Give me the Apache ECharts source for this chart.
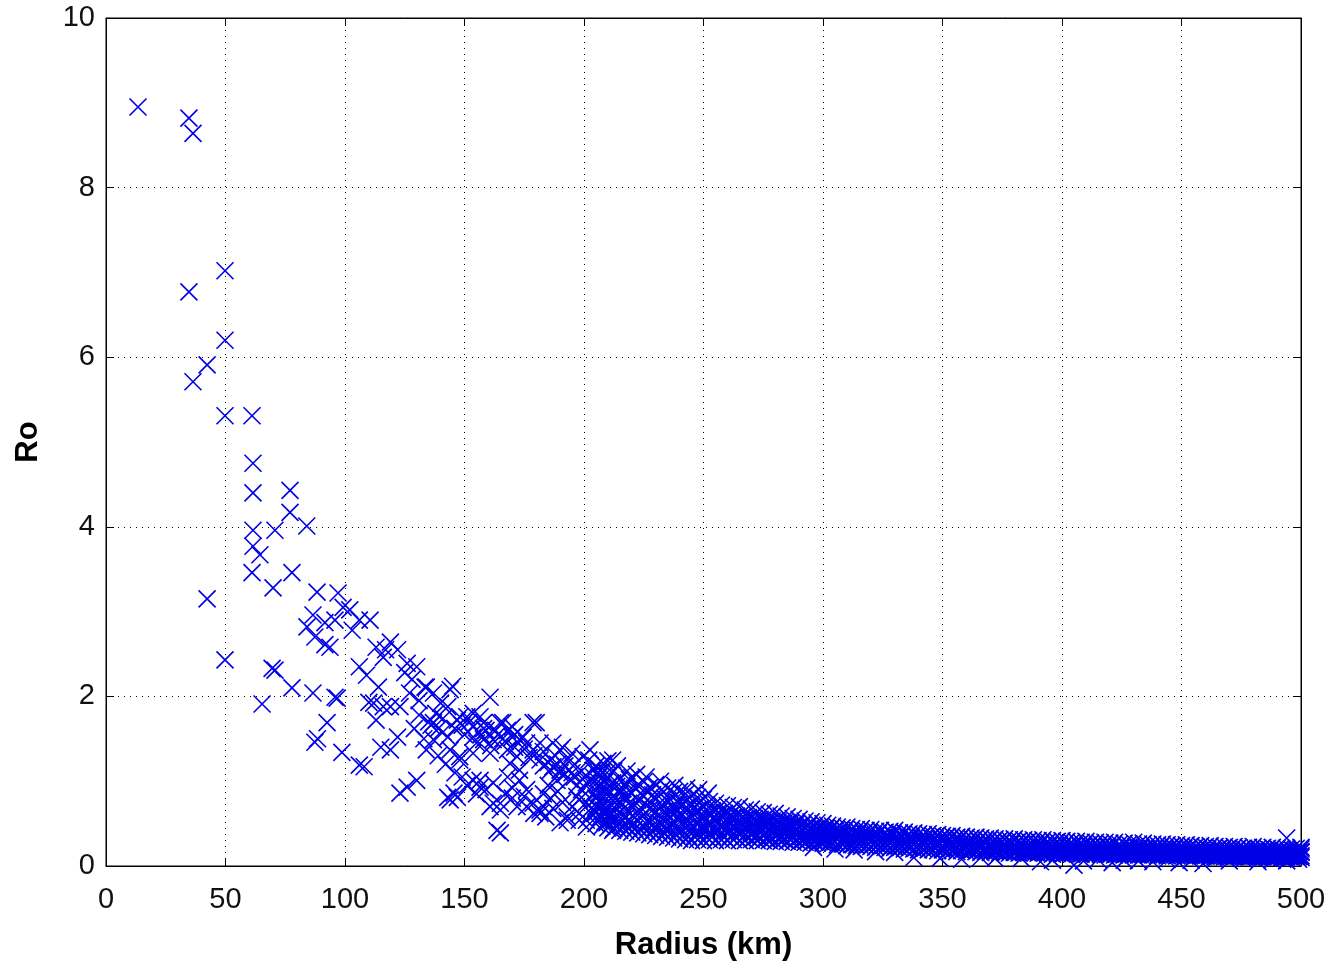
<!DOCTYPE html>
<html>
<head>
<meta charset="utf-8">
<script src="https://cdn.jsdelivr.net/npm/echarts@6/dist/echarts.min.js"></script>
<style>
  html, body { margin: 0; padding: 0; background: #ffffff; }
  #chart { width: 1339px; height: 970px; }
</style>
</head>
<body>
<div id="chart"></div>
<script>
// Axis ticks
const radiusTicks = [0, 50, 100, 150, 200, 250, 300, 350, 400, 450, 500];
const roTicks = [0, 2, 4, 6, 8, 10];

// Innermost radii: [radius km, Ro]
const innerPoints = [
  [13.4, 8.95], [34.7, 8.82], [36.4, 8.64], [34.7, 6.77], [49.8, 7.02], [49.8, 6.20],
  [42.3, 5.91], [36.4, 5.71], [49.8, 5.31], [61.1, 5.31], [61.5, 4.75], [61.5, 4.40],
  [42.3, 3.15], [49.8, 2.43], [77.0, 4.43], [77.0, 4.17], [84.0, 4.01], [61.5, 3.96],
  [70.7, 3.96], [61.5, 3.77], [64.4, 3.67], [61.1, 3.46], [77.8, 3.46], [69.9, 3.28],
  [65.3, 1.91], [69.5, 2.33], [70.7, 2.31], [77.8, 2.10]
];

// Radii 84-220 km
const transitionPoints = [
  [88.3, 3.23], [97.1, 3.22], [86.6, 2.96], [99.2, 3.05], [102, 3.02], [84.1, 2.82],
  [91.6, 2.87], [95.8, 2.90], [106, 2.90], [110.5, 2.90], [87.4, 2.70], [93.7, 2.58],
  [103, 2.78], [113, 2.58], [119, 2.64], [122, 2.55], [116, 2.46], [106, 2.35],
  [109, 2.25], [126, 2.39], [130, 2.35], [114, 2.11], [86.6, 2.04], [95.8, 1.99],
  [133.5, 2.11], [137, 2.04], [144, 2.08], [145, 2.12], [127, 2.04], [112, 1.92],
  [119, 1.88], [92.5, 1.69], [137, 1.69], [147, 1.72], [91.6, 2.61], [87.4, 1.46],
  [88.5, 1.50], [98.7, 1.34], [106, 1.19], [108, 1.17], [115, 1.40], [119, 1.37],
  [122, 1.52], [113, 1.72], [116, 1.88], [110, 1.93], [117, 2.55], [123, 1.88],
  [134, 2.11], [140, 1.92], [134, 1.37], [137, 1.49], [126, 0.93], [123, 0.86],
  [130, 1.01], [144, 0.78], [147, 0.81], [148, 1.25], [144, 1.37], [96.7, 1.98],
  [135, 1.70], [136, 1.66], [139, 1.62], [141, 1.58], [131, 1.78],
  [151, 1.76], [153.6, 1.64], [159, 1.60], [160.7, 1.99], [156.5, 1.76], [165, 1.69],
  [168, 1.60], [170, 1.52], [158, 1.49], [153.6, 1.33], [156.5, 1.01], [149, 1.05],
  [162, 0.74], [165, 0.66], [165, 0.39], [173, 1.01], [178.7, 1.37], [181.6, 1.25],
  [178.7, 1.69], [183, 0.70], [181.6, 0.62], [187, 1.17], [190, 1.13], [193, 1.25],
  [191, 1.40], [172, 1.29], [168, 1.37], [173, 1.49], [193, 0.54], [198, 0.62],
  [201, 0.54], [202.5, 1.37], [204, 1.13], [143, 1.88], [148, 1.76], [153.6, 1.80],
  [158, 1.69], [166, 1.69], [170, 1.64], [180, 1.69], [143, 1.52], [153.6, 1.52],
  [162, 1.49], [174.5, 1.52], [181.6, 1.45], [187, 1.45], [190, 1.37], [195, 1.33],
  [199.6, 1.29], [202, 1.25], [148, 1.29], [160.7, 1.33], [169, 1.21], [173, 1.13],
  [186, 1.13], [188.7, 1.01], [190, 1.10], [195, 1.10], [153.6, 1.01], [156.5, 0.93],
  [162, 0.98], [168, 1.05], [143, 0.81], [145.6, 0.86], [160.7, 0.70], [165, 0.74],
  [172, 0.70], [178.7, 0.74], [181.6, 0.66], [198, 0.78], [204, 0.86], [205, 0.70],
  [209.6, 0.90], [212, 0.98], [209.6, 1.10], [208, 1.21], [212, 1.25], [163.6, 0.42],
  [190, 0.51], [193, 0.58], [198, 0.54], [201, 0.46], [209.6, 0.51], [212, 0.42],
  [150, 1.55], [155, 1.45], [157, 1.55], [161, 1.42], [164, 1.55], [167, 1.47],
  [171, 1.40], [176, 1.45], [177, 1.28], [183, 1.35], [185, 1.22], [188, 1.30],
  [192, 1.18], [196, 1.20], [194, 1.02], [197, 0.95], [200, 1.05], [203, 1.00],
  [206, 0.95], [199, 0.90], [185, 0.95], [183, 0.85], [176, 0.90], [175, 0.82],
  [170, 0.92], [186, 0.80], [189, 0.88], [191, 0.75], [195, 0.70], [203, 0.62],
  [207, 0.58],
  [152, 1.70], [158, 1.62], [163, 1.60], [166, 1.50], [171, 1.55], [175, 1.38],
  [179, 1.30], [183, 1.18], [186, 1.25], [189, 1.20], [192, 1.08], [196, 1.05],
  [199, 1.12], [201, 0.98], [204, 1.05], [197, 0.82], [201, 0.75], [205, 0.80],
  [203, 0.68], [208, 0.66], [211, 0.60], [213, 0.75], [215, 0.85], [217, 0.95],
  [219, 1.02], [209, 1.00], [206, 1.10], [187, 0.68], [184, 0.58], [179, 0.62],
  [176, 0.70], [170, 0.80], [167, 0.85], [159, 0.90], [155, 0.85], [151, 0.95],
  [146, 1.10], [142, 1.20], [139, 1.30], [138, 1.80], [141, 1.74], [146, 1.62],
  [149, 1.66], [133, 1.50], [129, 1.62], [131, 1.95], [128, 2.20], [125, 2.28]
];

// Radii 205-300 km: [radius km, Ro values...]
const bandColumns = [
  [205, 1.18, 0.97, 0.80, 0.63, 0.50], [207.5, 1.10, 0.92, 0.74, 0.58, 0.47],
  [210, 1.05, 0.88, 0.71, 0.60, 0.45], [212.5, 1.12, 0.83, 0.69, 0.55, 0.44],
  [215, 1.02, 0.90, 0.76, 0.52, 0.42], [217.5, 0.98, 0.81, 0.66, 0.57, 0.41],
  [220, 1.04, 0.86, 0.70, 0.49, 0.40], [222.5, 0.95, 0.78, 0.64, 0.53, 0.39],
  [225, 0.99, 0.82, 0.61, 0.47, 0.38], [227.5, 0.93, 0.75, 0.67, 0.51, 0.37],
  [230, 0.96, 0.79, 0.63, 0.46, 0.36], [232.5, 0.90, 0.72, 0.58, 0.49, 0.35],
  [235, 0.92, 0.77, 0.60, 0.44, 0.34], [237.5, 0.87, 0.70, 0.62, 0.48, 0.33],
  [240, 0.88, 0.74, 0.57, 0.43, 0.32], [242.5, 0.85, 0.68, 0.55, 0.46, 0.31],
  [245, 0.83, 0.71, 0.59, 0.42, 0.30], [247.5, 0.81, 0.66, 0.52, 0.40, 0.31],
  [250, 0.79, 0.69, 0.56, 0.44, 0.30], [252.5, 0.76, 0.63, 0.50, 0.39, 0.31],
  [255, 0.74, 0.65, 0.54, 0.42, 0.30], [257.5, 0.72, 0.60, 0.49, 0.38, 0.31],
  [260, 0.71, 0.62, 0.52, 0.41, 0.30], [262.5, 0.69, 0.58, 0.47, 0.37, 0.31],
  [265, 0.70, 0.59, 0.50, 0.40, 0.30], [267.5, 0.66, 0.56, 0.46, 0.36, 0.30],
  [270, 0.67, 0.57, 0.48, 0.39, 0.31], [272.5, 0.64, 0.54, 0.45, 0.35, 0.30],
  [275, 0.63, 0.55, 0.47, 0.38, 0.30], [277.5, 0.61, 0.52, 0.43, 0.34, 0.30],
  [280, 0.62, 0.53, 0.45, 0.37, 0.29], [282.5, 0.59, 0.50, 0.42, 0.33, 0.29],
  [285, 0.58, 0.51, 0.44, 0.36, 0.29], [287.5, 0.56, 0.49, 0.41, 0.34, 0.28],
  [290, 0.55, 0.47, 0.40, 0.33, 0.28], [292.5, 0.53, 0.46, 0.39, 0.32, 0.28],
  [295, 0.52, 0.45, 0.38, 0.33, 0.27], [297.5, 0.51, 0.44, 0.37, 0.31, 0.27],
  [300, 0.50, 0.43, 0.36, 0.30, 0.27]
];

// Further radii 206-299 km between the columns above
const bandMidColumns = [
  [206.25, 1.05, 0.86, 0.68, 0.54], [208.75, 1.00, 0.82, 0.65, 0.52],
  [211.25, 0.97, 0.79, 0.62, 0.49], [213.75, 0.94, 0.77, 0.61, 0.48],
  [216.25, 0.91, 0.73, 0.59, 0.46], [218.75, 0.89, 0.74, 0.55, 0.45],
  [221.25, 0.92, 0.71, 0.57, 0.44], [223.75, 0.86, 0.69, 0.56, 0.43],
  [226.25, 0.88, 0.72, 0.53, 0.42], [228.75, 0.84, 0.66, 0.54, 0.41],
  [231.25, 0.82, 0.68, 0.51, 0.40], [233.75, 0.80, 0.65, 0.52, 0.39],
  [236.25, 0.78, 0.63, 0.50, 0.38], [238.75, 0.76, 0.64, 0.48, 0.37],
  [241.25, 0.74, 0.61, 0.49, 0.36], [243.75, 0.72, 0.59, 0.47, 0.35],
  [246.25, 0.70, 0.60, 0.46, 0.35], [248.75, 0.68, 0.57, 0.45, 0.34],
  [251.25, 0.67, 0.55, 0.44, 0.34], [253.75, 0.65, 0.56, 0.43, 0.35],
  [256.25, 0.63, 0.53, 0.44, 0.34], [258.75, 0.62, 0.51, 0.42, 0.34],
  [261.25, 0.60, 0.52, 0.43, 0.35], [263.75, 0.59, 0.50, 0.41, 0.34],
  [266.25, 0.58, 0.48, 0.40, 0.33], [268.75, 0.57, 0.49, 0.41, 0.34],
  [271.25, 0.56, 0.47, 0.39, 0.33], [273.75, 0.55, 0.46, 0.40, 0.33],
  [276.25, 0.54, 0.47, 0.38, 0.32], [278.75, 0.53, 0.45, 0.39, 0.32],
  [281.25, 0.52, 0.44, 0.37, 0.32], [283.75, 0.51, 0.45, 0.38, 0.31],
  [286.25, 0.50, 0.43, 0.36, 0.31], [288.75, 0.49, 0.42, 0.37, 0.31],
  [291.25, 0.48, 0.42, 0.35, 0.30], [293.75, 0.47, 0.41, 0.36, 0.30],
  [296.25, 0.46, 0.40, 0.34, 0.29], [298.75, 0.45, 0.39, 0.35, 0.29]
];

// Radii 302-500 km (even): [radius km, Ro values...]
const outerColumns = [
  [302, 0.48, 0.40, 0.33, 0.26], [304, 0.47, 0.38, 0.31, 0.27], [306, 0.46, 0.39, 0.32, 0.25],
  [308, 0.45, 0.37, 0.30, 0.26], [310, 0.46, 0.38, 0.31, 0.24], [312, 0.44, 0.36, 0.29, 0.25],
  [314, 0.43, 0.37, 0.30, 0.24], [316, 0.44, 0.35, 0.28, 0.23], [318, 0.42, 0.36, 0.29, 0.24],
  [320, 0.43, 0.34, 0.28, 0.23], [322, 0.41, 0.35, 0.27, 0.22], [324, 0.42, 0.33, 0.28, 0.23],
  [326, 0.40, 0.34, 0.26, 0.22], [328, 0.41, 0.32, 0.27, 0.21], [330, 0.42, 0.33, 0.26, 0.22],
  [332, 0.39, 0.31, 0.25, 0.21], [334, 0.40, 0.32, 0.26, 0.20], [336, 0.38, 0.31, 0.24, 0.21],
  [338, 0.39, 0.30, 0.25, 0.20], [340, 0.38, 0.31, 0.24, 0.19], [342, 0.37, 0.29, 0.25, 0.20],
  [344, 0.38, 0.30, 0.23, 0.19], [346, 0.36, 0.29, 0.24, 0.19], [348, 0.37, 0.28, 0.23, 0.18],
  [350, 0.36, 0.29, 0.22, 0.19], [352, 0.35, 0.28, 0.23, 0.18], [354, 0.36, 0.27, 0.22, 0.18],
  [356, 0.34, 0.28, 0.21, 0.17], [358, 0.35, 0.27, 0.22, 0.18], [360, 0.34, 0.26, 0.21, 0.17],
  [362, 0.33, 0.27, 0.22, 0.18], [364, 0.34, 0.26, 0.20, 0.17], [366, 0.33, 0.25, 0.21, 0.16],
  [368, 0.32, 0.26, 0.20, 0.17], [370, 0.33, 0.25, 0.21, 0.16], [372, 0.32, 0.26, 0.19, 0.17],
  [374, 0.31, 0.25, 0.20, 0.16], [376, 0.32, 0.24, 0.19, 0.16], [378, 0.31, 0.25, 0.20, 0.15],
  [380, 0.32, 0.24, 0.19, 0.16], [382, 0.30, 0.25, 0.20, 0.15], [384, 0.31, 0.24, 0.18, 0.16],
  [386, 0.30, 0.23, 0.19, 0.15], [388, 0.31, 0.24, 0.18, 0.16], [390, 0.30, 0.23, 0.19, 0.15],
  [392, 0.31, 0.22, 0.18, 0.16], [394, 0.29, 0.23, 0.19, 0.15], [396, 0.30, 0.22, 0.18, 0.14],
  [398, 0.29, 0.23, 0.17, 0.15], [400, 0.30, 0.22, 0.18, 0.14], [402, 0.29, 0.23, 0.17, 0.15],
  [404, 0.28, 0.22, 0.18, 0.14], [406, 0.29, 0.21, 0.17, 0.15], [408, 0.28, 0.22, 0.18, 0.14],
  [410, 0.29, 0.21, 0.17, 0.14], [412, 0.27, 0.22, 0.18, 0.15], [414, 0.28, 0.21, 0.17, 0.14],
  [416, 0.27, 0.20, 0.16, 0.14], [418, 0.28, 0.21, 0.17, 0.13], [420, 0.27, 0.22, 0.16, 0.14],
  [422, 0.28, 0.20, 0.17, 0.13], [424, 0.26, 0.21, 0.16, 0.14], [426, 0.27, 0.20, 0.17, 0.13],
  [428, 0.26, 0.21, 0.16, 0.14], [430, 0.28, 0.20, 0.15, 0.13], [432, 0.26, 0.21, 0.16, 0.13],
  [434, 0.27, 0.20, 0.17, 0.14], [436, 0.25, 0.19, 0.16, 0.13], [438, 0.26, 0.20, 0.15, 0.13],
  [440, 0.25, 0.19, 0.16, 0.12], [442, 0.26, 0.20, 0.15, 0.13], [444, 0.25, 0.19, 0.16, 0.12],
  [446, 0.24, 0.20, 0.15, 0.13], [448, 0.25, 0.19, 0.16, 0.12], [450, 0.24, 0.18, 0.15, 0.13],
  [452, 0.25, 0.19, 0.14, 0.12], [454, 0.24, 0.18, 0.15, 0.13], [456, 0.23, 0.19, 0.14, 0.12],
  [458, 0.24, 0.18, 0.15, 0.12], [460, 0.23, 0.17, 0.14, 0.12], [462, 0.24, 0.18, 0.15, 0.12],
  [464, 0.23, 0.17, 0.14, 0.11], [466, 0.22, 0.18, 0.15, 0.12], [468, 0.23, 0.17, 0.14, 0.11],
  [470, 0.22, 0.18, 0.13, 0.12], [472, 0.23, 0.17, 0.14, 0.11], [474, 0.22, 0.16, 0.13, 0.12],
  [476, 0.21, 0.17, 0.14, 0.11], [478, 0.22, 0.16, 0.13, 0.11], [480, 0.23, 0.17, 0.14, 0.12],
  [482, 0.21, 0.16, 0.13, 0.11], [484, 0.22, 0.17, 0.14, 0.11], [486, 0.21, 0.16, 0.13, 0.10],
  [488, 0.22, 0.17, 0.14, 0.11], [490, 0.21, 0.16, 0.13, 0.11], [492, 0.20, 0.17, 0.14, 0.10],
  [494, 0.21, 0.16, 0.13, 0.11], [496, 0.20, 0.15, 0.12, 0.10], [498, 0.21, 0.16, 0.13, 0.11],
  [500, 0.20, 0.16, 0.12, 0.10]
];

// Radii 301-499 km (odd): [radius km, Ro values...]
const outerMidColumns = [
  [301, 0.44, 0.36, 0.29], [303, 0.43, 0.35, 0.28], [305, 0.42, 0.34, 0.29], [307, 0.41, 0.35, 0.28],
  [309, 0.42, 0.33, 0.27], [311, 0.40, 0.34, 0.27], [313, 0.39, 0.32, 0.26], [315, 0.40, 0.33, 0.27],
  [317, 0.39, 0.31, 0.26], [319, 0.38, 0.32, 0.25], [321, 0.37, 0.31, 0.26], [323, 0.38, 0.30, 0.25],
  [325, 0.37, 0.31, 0.24], [327, 0.36, 0.30, 0.25], [329, 0.37, 0.29, 0.24], [331, 0.35, 0.30, 0.24],
  [333, 0.36, 0.29, 0.23], [335, 0.35, 0.28, 0.24], [337, 0.34, 0.29, 0.23], [339, 0.35, 0.28, 0.22],
  [341, 0.34, 0.27, 0.23], [343, 0.33, 0.28, 0.22], [345, 0.34, 0.27, 0.21], [347, 0.33, 0.26, 0.22],
  [349, 0.32, 0.27, 0.21], [351, 0.33, 0.26, 0.21], [353, 0.32, 0.25, 0.20], [355, 0.31, 0.26, 0.21],
  [357, 0.32, 0.25, 0.20], [359, 0.31, 0.24, 0.20], [361, 0.30, 0.25, 0.19], [363, 0.31, 0.24, 0.20],
  [365, 0.30, 0.23, 0.19], [367, 0.29, 0.24, 0.19], [369, 0.30, 0.23, 0.18], [371, 0.29, 0.22, 0.19],
  [373, 0.28, 0.23, 0.18], [375, 0.29, 0.22, 0.18], [377, 0.28, 0.23, 0.17], [379, 0.27, 0.22, 0.18],
  [381, 0.28, 0.21, 0.17], [383, 0.27, 0.22, 0.18], [385, 0.28, 0.21, 0.17], [387, 0.27, 0.20, 0.17],
  [389, 0.26, 0.21, 0.16], [391, 0.27, 0.20, 0.17], [393, 0.26, 0.21, 0.16], [395, 0.25, 0.20, 0.17],
  [397, 0.26, 0.19, 0.16], [399, 0.25, 0.20, 0.16], [401, 0.26, 0.19, 0.15], [403, 0.25, 0.20, 0.16],
  [405, 0.24, 0.19, 0.16], [407, 0.25, 0.18, 0.15], [409, 0.24, 0.19, 0.16], [411, 0.25, 0.18, 0.15],
  [413, 0.24, 0.19, 0.15], [415, 0.23, 0.18, 0.16], [417, 0.24, 0.19, 0.15], [419, 0.23, 0.18, 0.14],
  [421, 0.24, 0.17, 0.15], [423, 0.23, 0.18, 0.14], [425, 0.22, 0.17, 0.15], [427, 0.23, 0.18, 0.14],
  [429, 0.22, 0.17, 0.15], [431, 0.23, 0.18, 0.14], [433, 0.22, 0.17, 0.14], [435, 0.21, 0.18, 0.14],
  [437, 0.22, 0.17, 0.14], [439, 0.21, 0.16, 0.14], [441, 0.22, 0.17, 0.13], [443, 0.21, 0.16, 0.14],
  [445, 0.22, 0.17, 0.13], [447, 0.21, 0.16, 0.14], [449, 0.20, 0.17, 0.13], [451, 0.21, 0.16, 0.13],
  [453, 0.20, 0.15, 0.13], [455, 0.21, 0.16, 0.13], [457, 0.20, 0.15, 0.13], [459, 0.21, 0.16, 0.12],
  [461, 0.20, 0.15, 0.13], [463, 0.19, 0.16, 0.12], [465, 0.20, 0.15, 0.13], [467, 0.19, 0.16, 0.12],
  [469, 0.20, 0.15, 0.12], [471, 0.19, 0.14, 0.12], [473, 0.20, 0.15, 0.12], [475, 0.19, 0.14, 0.12],
  [477, 0.18, 0.15, 0.12], [479, 0.19, 0.14, 0.11], [481, 0.18, 0.15, 0.12], [483, 0.19, 0.14, 0.11],
  [485, 0.18, 0.15, 0.12], [487, 0.19, 0.14, 0.11], [489, 0.18, 0.13, 0.11], [491, 0.19, 0.14, 0.12],
  [493, 0.18, 0.15, 0.11], [495, 0.17, 0.14, 0.11], [497, 0.18, 0.13, 0.11], [499, 0.17, 0.14, 0.11]
];

// Scattered values above and below the outer band
const fringePoints = [
  [210, 1.24], [214, 1.18], [218, 1.12], [222, 1.08], [226, 1.05], [232, 1.00],
  [238, 0.95], [243, 0.92], [248, 0.90], [252, 0.86],
  [296, 0.22], [305, 0.20], [313, 0.19], [322, 0.17], [330, 0.16],
  [338, 0.10], [349, 0.09], [358, 0.08], [366, 0.10], [372, 0.09], [383, 0.09],
  [391, 0.05], [396, 0.07], [405, 0.01], [409, 0.06], [415, 0.08], [421, 0.04],
  [426, 0.07], [432, 0.06], [438, 0.05], [444, 0.08], [449, 0.04], [454, 0.07],
  [459, 0.03], [464, 0.08], [470, 0.06], [476, 0.08], [482, 0.05], [488, 0.07],
  [494, 0.06], [499, 0.08], [494, 0.33], [500, 0.22], [500, 0.17]
];

// Flatten column tables into [radius, Ro] pairs
function expandColumns(cols) {
  const out = [];
  cols.forEach(function (c) {
    for (let i = 1; i < c.length; i++) out.push([c[0], c[i]]);
  });
  return out;
}

const allPoints = innerPoints
  .concat(transitionPoints)
  .concat(expandColumns(bandColumns))
  .concat(expandColumns(bandMidColumns))
  .concat(expandColumns(outerColumns))
  .concat(expandColumns(outerMidColumns))
  .concat(fringePoints);

const FONT = '"Liberation Sans", Arial, Helvetica, sans-serif';
const xStep = radiusTicks[1] - radiusTicks[0];
const yStep = roTicks[1] - roTicks[0];

const chart = echarts.init(document.getElementById('chart'), null, { renderer: 'canvas' });

const tickStyle = { inside: true, length: 8, lineStyle: { color: '#000', width: 1 } };
const gridDots = { show: true, lineStyle: { color: '#000', width: 1, type: [1, 5] } };

chart.setOption({
  animation: false,
  backgroundColor: '#ffffff',
  grid: {
    left: 106, right: 38, top: 18, bottom: 104,
    show: true, borderColor: '#000', borderWidth: 1, backgroundColor: '#ffffff'
  },
  xAxis: [
    {
      type: 'value',
      min: radiusTicks[0], max: radiusTicks[radiusTicks.length - 1], interval: xStep,
      position: 'bottom',
      name: 'Radius (km)', nameLocation: 'middle', nameGap: 64,
      nameTextStyle: { fontFamily: FONT, fontSize: 31, fontWeight: 'bold', color: '#000' },
      axisLine: { show: true, onZero: false, lineStyle: { color: '#000', width: 1 } },
      axisTick: tickStyle,
      axisLabel: { fontFamily: FONT, fontSize: 29, color: '#111', margin: 19 },
      splitLine: gridDots
    },
    {
      type: 'value',
      min: radiusTicks[0], max: radiusTicks[radiusTicks.length - 1], interval: xStep,
      position: 'top',
      axisLine: { show: true, onZero: false, lineStyle: { color: '#000', width: 1 } },
      axisTick: tickStyle,
      axisLabel: { show: false },
      splitLine: { show: false }
    }
  ],
  yAxis: [
    {
      type: 'value',
      min: roTicks[0], max: roTicks[roTicks.length - 1], interval: yStep,
      position: 'left',
      name: 'Ro', nameLocation: 'middle', nameGap: 62, nameRotate: 90,
      nameTextStyle: { fontFamily: FONT, fontSize: 31, fontWeight: 'bold', color: '#000' },
      axisLine: { show: true, onZero: false, lineStyle: { color: '#000', width: 1 } },
      axisTick: tickStyle,
      axisLabel: { fontFamily: FONT, fontSize: 29, color: '#111', margin: 11 },
      splitLine: gridDots
    },
    {
      type: 'value',
      min: roTicks[0], max: roTicks[roTicks.length - 1], interval: yStep,
      position: 'right',
      axisLine: { show: true, onZero: false, lineStyle: { color: '#000', width: 1 } },
      axisTick: tickStyle,
      axisLabel: { show: false },
      splitLine: { show: false }
    }
  ],
  series: [
    {
      type: 'scatter',
      xAxisIndex: 0,
      yAxisIndex: 0,
      data: allPoints,
      symbol: 'path://M0,0L10,10M10,0L0,10',
      symbolSize: 17,
      itemStyle: { color: '#0000e6', borderColor: '#0000e6', borderWidth: 1.6, opacity: 1 },
      emphasis: { disabled: true },
      silent: true,
      large: false
    }
  ]
});
</script>
</body>
</html>
